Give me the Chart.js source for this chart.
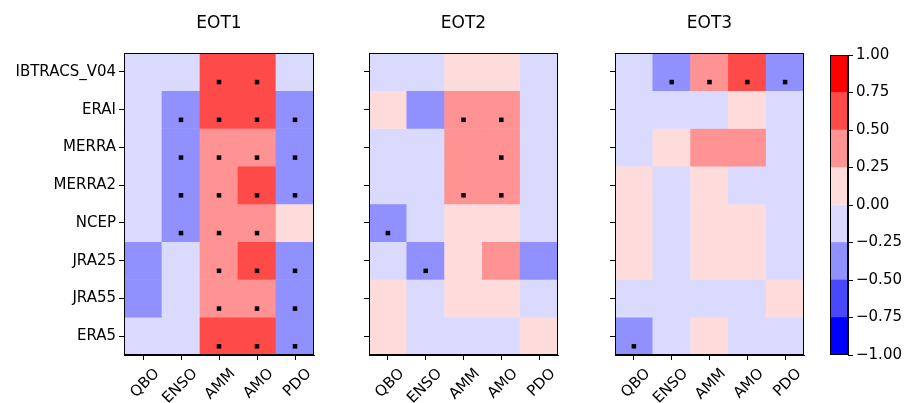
<!DOCTYPE html>
<html>
<head>
<meta charset="utf-8">
<script src="https://cdn.jsdelivr.net/npm/chart.js@4/dist/chart.umd.min.js"></script>
<style>
  body { margin: 0; background: #fff; }
  #wrap { position: relative; width: 907px; height: 403px; background: #fff; }
  canvas { position: absolute; top: 0; }
</style>
</head>
<body>
<div id="wrap">
  <canvas id="eot1" width="320" height="403" style="left:0px"></canvas>
  <canvas id="eot2" width="234" height="403" style="left:330px"></canvas>
  <canvas id="eot3" width="234" height="403" style="left:576px"></canvas>
  <canvas id="cbar" width="87" height="403" style="left:820px"></canvas>
</div>
<script>
const rowLabels = ['IBTRACS_V04', 'ERAI', 'MERRA', 'MERRA2', 'NCEP', 'JRA25', 'JRA55', 'ERA5'];
const colLabels = ['QBO', 'ENSO', 'AMM', 'AMO', 'PDO'];
const levels = [-1, -0.75, -0.5, -0.25, 0, 0.25, 0.5, 0.75, 1];

// correlation per row (dataset) and column (index)
const eot1Values = [
  [-0.12, -0.05, 0.62, 0.58, -0.10],
  [-0.08, -0.33, 0.55, 0.57, -0.36],
  [-0.06, -0.31, 0.45, 0.41, -0.34],
  [-0.10, -0.29, 0.47, 0.53, -0.31],
  [-0.15, -0.27, 0.44, 0.46, 0.08],
  [-0.28, -0.12, 0.43, 0.56, -0.37],
  [-0.30, -0.09, 0.42, 0.48, -0.35],
  [-0.14, -0.11, 0.60, 0.61, -0.32]
];
const eot1Signif = [
  [0, 0, 1, 1, 0],
  [0, 1, 1, 1, 1],
  [0, 1, 1, 1, 1],
  [0, 1, 1, 1, 1],
  [0, 1, 1, 1, 0],
  [0, 0, 1, 1, 1],
  [0, 0, 1, 1, 1],
  [0, 0, 1, 1, 1]
];
const eot2Values = [
  [-0.05, -0.08, 0.12, 0.09, -0.06],
  [0.07, -0.30, 0.34, 0.36, -0.10],
  [-0.11, -0.07, 0.31, 0.33, -0.13],
  [-0.09, -0.14, 0.32, 0.30, -0.12],
  [-0.29, -0.06, 0.15, 0.11, -0.09],
  [-0.18, -0.27, 0.13, 0.28, -0.26],
  [0.04, -0.10, 0.16, 0.14, -0.07],
  [0.06, -0.12, -0.04, -0.08, 0.05]
];
const eot2Signif = [
  [0, 0, 0, 0, 0],
  [0, 0, 1, 1, 0],
  [0, 0, 0, 1, 0],
  [0, 0, 1, 1, 0],
  [1, 0, 0, 0, 0],
  [0, 1, 0, 0, 0],
  [0, 0, 0, 0, 0],
  [0, 0, 0, 0, 0]
];
const eot3Values = [
  [-0.10, -0.34, 0.38, 0.52, -0.30],
  [-0.06, -0.13, -0.09, 0.07, -0.11],
  [-0.08, 0.10, 0.27, 0.29, -0.05],
  [0.05, -0.09, 0.11, -0.07, -0.12],
  [0.09, -0.04, 0.14, 0.06, -0.10],
  [0.12, -0.11, 0.08, 0.10, -0.15],
  [-0.07, -0.05, -0.12, -0.03, 0.04],
  [-0.31, -0.06, 0.09, -0.10, -0.08]
];
const eot3Signif = [
  [0, 1, 1, 1, 1],
  [0, 0, 0, 0, 0],
  [0, 0, 0, 0, 0],
  [0, 0, 0, 0, 0],
  [0, 0, 0, 0, 0],
  [0, 0, 0, 0, 0],
  [0, 0, 0, 0, 0],
  [1, 0, 0, 0, 0]
];

// discrete bwr colours, one per level bin
const palette = ['#0000ff', '#4848ff', '#9090ff', '#dadaff', '#ffdcdc', '#ff9292', '#ff4a4a', '#ff0000'];
const FONT = 'DejaVu Sans';

function colorFor(v) {
  let i = 0;
  while (i < palette.length - 1 && v >= levels[i + 1]) i++;
  return palette[i];
}

// black box around the plot area, like matplotlib spines
const framePlugin = {
  id: 'frame',
  afterDraw(chart) {
    const a = chart.chartArea;
    const ctx = chart.ctx;
    ctx.save();
    ctx.strokeStyle = '#000';
    ctx.lineWidth = 1;
    ctx.strokeRect(Math.round(a.left) + 0.5, Math.round(a.top) + 0.5,
      Math.round(a.right - a.left) - 1, Math.round(a.bottom - a.top) - 1);
    ctx.restore();
  }
};

function makePanel(id, title, values, signif, showRows, yWidth) {
  const datasets = values.map((row, r) => ({
    type: 'bar',
    data: row.map(() => [r, r + 1]),
    backgroundColor: row.map(colorFor),
    borderWidth: 0,
    grouped: false,
    barPercentage: 1,
    categoryPercentage: 1,
    order: 1
  }));

  // significance markers, drawn on top of the cells
  const dots = [];
  signif.forEach((row, r) => {
    row.forEach((s, c) => {
      if (s) dots.push({ x: colLabels[c], y: r + 0.77 });
    });
  });
  datasets.push({
    type: 'scatter',
    data: dots,
    pointStyle: 'rect',
    pointRadius: 3.2,
    backgroundColor: '#000',
    borderWidth: 0,
    order: 0
  });

  new Chart(document.getElementById(id), {
    type: 'bar',
    data: { labels: colLabels, datasets: datasets },
    options: {
      responsive: false,
      animation: false,
      layout: { padding: { left: 0, right: 6, top: 0, bottom: 0 } },
      plugins: {
        legend: { display: false },
        tooltip: { enabled: false },
        title: {
          display: true,
          text: title,
          fullSize: false,
          color: '#000',
          font: { family: FONT, size: 17, weight: 'normal', lineHeight: 1.2 },
          padding: { top: 13, bottom: 19.6 }
        }
      },
      scales: {
        x: {
          type: 'category',
          offset: true,
          afterFit: (s) => { s.height = 48; },
          grid: { display: true, drawOnChartArea: false, offset: false, tickLength: 5, color: '#000' },
          border: { display: true, color: '#000' },
          ticks: {
            color: '#000', font: { family: FONT, size: 15 },
            maxRotation: 45, minRotation: 45, padding: 5, labelOffset: 14
          }
        },
        y: {
          type: 'linear',
          min: 0,
          max: rowLabels.length,
          reverse: true,
          afterFit: (s) => { s.width = yWidth; },
          afterBuildTicks: (s) => { s.ticks = rowLabels.map((_, i) => ({ value: i + 0.5 })); },
          grid: { display: true, drawOnChartArea: false, tickLength: 5, color: '#000' },
          border: { display: true, color: '#000' },
          ticks: {
            color: '#000',
            font: { family: FONT, size: 15 },
            padding: 3,
            callback: (v) => showRows ? rowLabels[Math.round(v - 0.5)] : ''
          }
        }
      }
    },
    plugins: [framePlugin]
  });
}

makePanel('eot1', 'EOT1', eot1Values, eot1Signif, true, 124);
makePanel('eot2', 'EOT2', eot2Values, eot2Signif, false, 39);
makePanel('eot3', 'EOT3', eot3Values, eot3Signif, false, 39);

// colour bar
new Chart(document.getElementById('cbar'), {
  type: 'bar',
  data: {
    labels: ['r'],
    datasets: palette.map((c, i) => ({
      data: [[levels[i], levels[i + 1]]],
      backgroundColor: c,
      borderWidth: 0,
      grouped: false,
      barPercentage: 1,
      categoryPercentage: 1
    }))
  },
  options: {
    responsive: false,
    animation: false,
    layout: { padding: { left: 10, right: 0, top: 55, bottom: 48 } },
    plugins: { legend: { display: false }, tooltip: { enabled: false } },
    scales: {
      x: { display: false },
      y: {
        type: 'linear',
        position: 'right',
        min: -1,
        max: 1,
        afterFit: (s) => { s.width = 59; },
        afterBuildTicks: (s) => { s.ticks = levels.map((v) => ({ value: v })); },
        grid: { display: true, drawOnChartArea: false, tickLength: 5, color: '#000' },
        border: { display: true, color: '#000' },
        ticks: {
          color: '#000',
          font: { family: FONT, size: 15 },
          padding: 3,
          callback: (v) => (v < 0 ? '\u2212' : '') + Math.abs(v).toFixed(2)
        }
      }
    }
  },
  plugins: [framePlugin]
});
</script>
</body>
</html>
